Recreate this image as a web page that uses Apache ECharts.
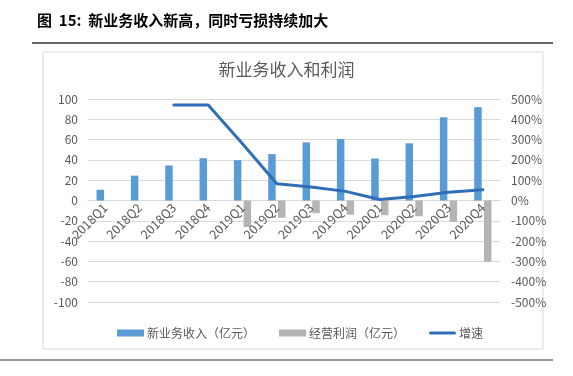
<!DOCTYPE html>
<html>
<head>
<meta charset="utf-8">
<script src="https://cdn.jsdelivr.net/npm/echarts@6/dist/echarts.min.js"></script>
<style>
html, body { margin: 0; padding: 0; background: #fff; }
#main { width: 573px; height: 376px; }
</style>
</head>
<body>
<div id="main"></div>
<script>
const categories = ["2018Q1", "2018Q2", "2018Q3", "2018Q4", "2019Q1", "2019Q2", "2019Q3", "2019Q4", "2020Q1", "2020Q2", "2020Q3", "2020Q4"];
const revenue = [10.6, 24.5, 34.5, 41.7, 39.7, 45.7, 57.3, 60.6, 41.4, 56.3, 82, 92];
const profit = [null, null, null, null, -26, -17, -12.5, -14, -14.5, -15.5, -21, -60.5];
const growth = [null, null, 470, 470, 280, 83, 66, 45, 5, 20, 41, 53];

const labelColor = "#595959";
const font = "'Noto Sans CJK SC', 'Noto Sans', sans-serif";

const chart = echarts.init(document.getElementById("main"));

chart.setOption({
    animation: false,
    textStyle: { fontFamily: font },
    title: [
        {
            text: "图  15:  新业务收入新高，同时亏损持续加大",
            left: 32,
            top: 8,
            textStyle: { fontSize: 15, fontWeight: "bold", color: "#000", fontFamily: font }
        },
        {
            text: "新业务收入和利润",
            left: "center",
            top: 56,
            textStyle: { fontSize: 17, fontWeight: "normal", color: labelColor, fontFamily: font }
        }
    ],
    graphic: [
        {
            type: "line",
            shape: { x1: 32, y1: 43, x2: 553, y2: 43 },
            style: { stroke: "#333", lineWidth: 1.5 }
        },
        {
            type: "rect",
            shape: { x: 43, y: 52, width: 500, height: 297 },
            style: { fill: null, stroke: "#d9d9d9", lineWidth: 1 },
            z: -1
        },
        {
            type: "line",
            shape: { x1: 0, y1: 360, x2: 553, y2: 360 },
            style: { stroke: "#333", lineWidth: 1.2 }
        }
    ],
    legend: {
        top: 322,
        left: 112,
        itemWidth: 27,
        itemHeight: 7,
        itemGap: 24,
        textStyle: { color: labelColor, fontSize: 12, padding: [0, 0, 0, -2] },
        data: [
            { name: "新业务收入（亿元）", icon: "rect" },
            { name: "经营利润（亿元）", icon: "rect" },
            { name: "增速", icon: "path://M0,0 L0.01,0 M0,7 L0.01,7 M1.5,2 L25.5,2 A1.5,1.5 0 0 1 25.5,5 L1.5,5 A1.5,1.5 0 0 1 1.5,2 Z" }
        ]
    },
    grid: [
        { left: 88, right: 73, top: 99, bottom: 74 },
        { left: 88, right: 73, top: 99, bottom: 175.5 }
    ],
    xAxis: [
        {
            type: "category",
            gridIndex: 0,
            data: categories,
            axisLine: { show: true, onZero: true, onZeroAxisIndex: 0, lineStyle: { color: "#d9d9d9" } },
            axisTick: { show: false },
            axisLabel: { show: false }
        },
        {
            type: "category",
            gridIndex: 1,
            data: categories,
            axisLine: { show: false },
            axisTick: { show: false },
            axisLabel: { rotate: 45, color: labelColor, fontSize: 12.5, margin: 5, interval: 0 },
            z: 5
        }
    ],
    yAxis: [
        {
            type: "value",
            gridIndex: 0,
            min: -100,
            max: 100,
            interval: 20,
            axisLine: { show: false },
            axisTick: { show: false },
            axisLabel: { color: labelColor, fontSize: 12, margin: 10 },
            splitLine: { lineStyle: { color: "#d9d9d9" } }
        },
        {
            type: "value",
            gridIndex: 0,
            min: -500,
            max: 500,
            interval: 100,
            axisLine: { show: false },
            axisTick: { show: false },
            axisLabel: { color: labelColor, fontSize: 12, margin: 11, formatter: "{value}%" },
            splitLine: { show: false }
        },
        {
            type: "value",
            gridIndex: 1,
            show: false
        }
    ],
    series: [
        {
            name: "新业务收入（亿元）",
            type: "bar",
            data: revenue,
            barWidth: 7.5,
            barGap: "30%",
            itemStyle: { color: "#5b9bd5" }
        },
        {
            name: "经营利润（亿元）",
            type: "bar",
            data: profit,
            barWidth: 7.5,
            itemStyle: { color: "#b4b4b4" }
        },
        {
            name: "增速",
            type: "line",
            yAxisIndex: 1,
            data: growth,
            symbol: "none",
            lineStyle: { color: "#2e6fb7", width: 3, cap: "round" },
            itemStyle: { color: "#2e6fb7" }
        }
    ]
});
</script>
</body>
</html>
